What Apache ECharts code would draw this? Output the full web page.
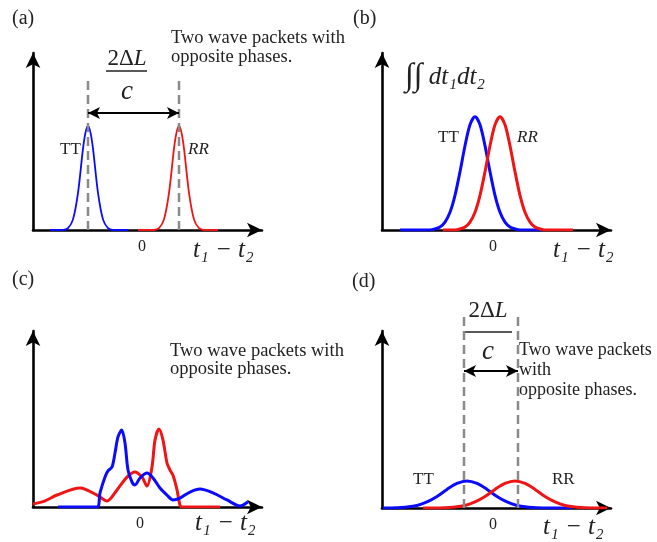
<!DOCTYPE html>
<html>
<head>
<meta charset="utf-8">
<script src="https://cdn.jsdelivr.net/npm/echarts@6/dist/echarts.min.js"></script>
<style>
  html, body { margin: 0; background: #fff; }
  #chart { width: 657px; height: 542px; }
</style>
</head>
<body>
<div id="chart"></div>
<script>
// (a) two narrow packets, far apart
const aTTx = [-9.2, -7.9, -7.4, -6.9, -6.4, -5.9, -5.65, -5.4, -5.15, -4.9, -4.4, -3.9, -3.4, -2.9, -1.4]
const aTTy = [0, 0, 0.01, 0.06, 0.21, 0.46, 0.55, 0.59, 0.55, 0.46, 0.21, 0.06, 0.01, 0, 0]
const aRRx = [-0.4, 1.2, 1.7, 2.2, 2.7, 3.2, 3.45, 3.7, 3.95, 4.2, 4.7, 5.2, 5.7, 6.2, 7.6]
const aRRy = [0, 0, 0.01, 0.06, 0.21, 0.46, 0.55, 0.59, 0.55, 0.46, 0.21, 0.06, 0.01, 0, 0]
const aGuideX = [-5.4, 3.7]
const aGuideTop = 0.864
const aSpanY = 0.661

// (b) after integrating over dt1 dt2
const bTTx = [-9.3, -6.3, -5.8, -5.3, -4.8, -4.3, -3.8, -3.3, -2.8, -2.3, -1.8, -1.3, -0.8, -0.3, 0.2, 0.7, 1.2, 1.7, 2.2, 2.7, 5.0]
const bTTy = [0, 0, 0.006, 0.017, 0.045, 0.1, 0.196, 0.329, 0.476, 0.595, 0.64, 0.595, 0.476, 0.329, 0.196, 0.1, 0.045, 0.017, 0.006, 0, 0]
const bRRx = [-5.0, -3.8, -3.3, -2.8, -2.3, -1.8, -1.3, -0.8, -0.3, 0.2, 0.7, 1.2, 1.7, 2.2, 2.7, 3.2, 3.7, 4.2, 4.7, 5.2, 8.0]
const bRRy = [0, 0, 0.006, 0.017, 0.045, 0.1, 0.196, 0.329, 0.476, 0.595, 0.64, 0.595, 0.476, 0.329, 0.196, 0.1, 0.045, 0.017, 0.006, 0, 0]

// (c) interfering packets
const cTTx = [-8.2, -4.3, -4.0, -3.5, -3.2, -2.8, -2.5, -2.2, -1.83, -1.5, -1.2, -0.8, -0.5, 0, 0.7, 1.3, 2.0, 2.7, 3.3, 4.0, 5.0, 6.0, 7.3, 8.7, 10.0, 10.8]
const cTTy = [0, 0, 0.08, 0.17, 0.205, 0.227, 0.307, 0.398, 0.4375, 0.364, 0.21, 0.142, 0.125, 0.165, 0.193, 0.165, 0.108, 0.068, 0.04, 0.051, 0.085, 0.102, 0.08, 0.04, 0.006, 0.03]
const cRRx = [-10.7, -9.5, -8.3, -6.0, -4.3, -3.3, -2.3, -1.3, -0.5, 0.2, 0.7, 1.2, 1.5, 1.9, 2.3, 2.7, 3.0, 3.3, 3.7, 4.0, 4.2, 8.0]
const cRRy = [0.017, 0.035, 0.068, 0.108, 0.068, 0.034, 0.097, 0.17, 0.199, 0.17, 0.119, 0.227, 0.38, 0.443, 0.38, 0.25, 0.21, 0.18, 0.097, 0.01, 0, 0]

// (d) broad packets, close together
const dTTx = [-11.0, -10.6, -9.6, -8.6, -7.6, -6.6, -5.6, -4.6, -3.6, -2.6, -1.6, -0.6, 0.4, 1.4, 2.4, 3.4, 4.4, 5.4, 8.0]
const dTTy = [0, 0, 0.0015, 0.005, 0.014, 0.034, 0.065, 0.105, 0.139, 0.153, 0.139, 0.105, 0.065, 0.034, 0.014, 0.005, 0.0015, 0, 0]
const dRRx = [-7.0, -5.8, -4.8, -3.8, -2.8, -1.8, -0.8, 0.2, 1.2, 2.2, 3.2, 4.2, 5.2, 6.2, 7.2, 8.2, 9.2, 10.2, 11.4]
const dRRy = [0, 0, 0.0015, 0.005, 0.014, 0.034, 0.065, 0.105, 0.139, 0.153, 0.139, 0.105, 0.065, 0.034, 0.014, 0.005, 0.0015, 0, 0]
const dGuideX = [-2.9, 2.5]
const dGuideTop = 1.1
const dSpanY = 0.774

const zeroTick = [0]

const BLUE = '#0a0aff'
const RED = '#f01414'
const serif = '"Liberation Serif", "Times New Roman", serif'

const panels = [
  { left: 33, top: 53, height: 177, min: -10.9, max: 12.0 },
  { left: 382, top: 53, height: 177, min: -11.1, max: 11.8 },
  { left: 33, top: 331, height: 176, min: -10.7, max: 12.2 },
  { left: 382, top: 331, height: 177, min: -11.1, max: 11.8 }
]

const pair = (xs, ys) => xs.map((x, i) => [x, ys[i]])

function curve(i, xs, ys, color, width) {
  return {
    type: 'line', xAxisIndex: i, yAxisIndex: i,
    data: pair(xs, ys),
    smooth: 0.3, showSymbol: false, silent: true,
    lineStyle: { color: color, width: width },
    z: 3
  }
}

function guide(i, x, top) {
  return {
    type: 'line', xAxisIndex: i, yAxisIndex: i,
    data: [[x, 0], [x, top]],
    showSymbol: false, silent: true, clip: false,
    lineStyle: { color: '#8a8a8a', width: 2.5, type: [9, 5] },
    z: 4
  }
}

function span(i, x1, x2, y) {
  return {
    type: 'line', xAxisIndex: i, yAxisIndex: i, data: [],
    markLine: {
      silent: true, animation: false,
      symbol: ['arrow', 'arrow'], symbolSize: [9, 12],
      label: { show: false },
      lineStyle: { color: '#000', width: 2, type: 'solid' },
      data: [[{ coord: [x1, y] }, { coord: [x2, y] }]]
    },
    z: 5
  }
}

function txt(x, y, text, size, extra) {
  return {
    type: 'text', x: x, y: y, silent: true,
    style: Object.assign({
      text: text, fill: '#222',
      font: size + 'px ' + serif,
      textAlign: 'left', textVerticalAlign: 'middle'
    }, extra || {})
  }
}

function fraction(cx, topY, barY, cY, barL, barR) {
  return [
    {
      type: 'text', x: cx, y: topY, silent: true,
      style: {
        text: '{n|2Δ}{i|L}', textAlign: 'center', textVerticalAlign: 'middle',
        rich: {
          n: { font: '23px ' + serif, fill: '#222' },
          i: { font: 'italic 23px ' + serif, fill: '#222' }
        }
      }
    },
    {
      type: 'line', silent: true,
      shape: { x1: barL, y1: barY, x2: barR, y2: barY },
      style: { stroke: '#222', lineWidth: 1.5 }
    },
    txt(cx, cY, 'c', 27, { font: 'italic 27px ' + serif, textAlign: 'center' })
  ]
}

const chart = echarts.init(document.getElementById('chart'))

chart.setOption({
  animation: false,
  backgroundColor: '#fff',
  grid: panels.map(p => ({ left: p.left, top: p.top, width: 229, height: p.height })),
  xAxis: panels.map((p, i) => ({
    type: 'value', gridIndex: i, min: p.min, max: p.max,
    splitLine: { show: false },
    axisTick: { show: false },
    axisLine: {
      onZero: false, symbol: ['none', 'arrow'], symbolSize: [11, 15],
      lineStyle: { color: '#000', width: 2.6 }
    },
    axisLabel: {
      customValues: zeroTick, margin: 9,
      color: '#222', fontSize: 16, fontFamily: serif
    }
  })),
  yAxis: panels.map((p, i) => ({
    type: 'value', gridIndex: i, min: 0, max: 1,
    splitLine: { show: false },
    axisTick: { show: false },
    axisLabel: { show: false },
    axisLine: {
      show: true, onZero: false, symbol: ['none', 'arrow'], symbolSize: [11, 15],
      lineStyle: { color: '#000', width: 2.6 }
    }
  })),
  series: [
    curve(0, aTTx, aTTy, BLUE, 1.8),
    curve(0, aRRx, aRRy, RED, 1.8),
    guide(0, aGuideX[0], aGuideTop),
    guide(0, aGuideX[1], aGuideTop),
    span(0, aGuideX[0], aGuideX[1], aSpanY),

    curve(1, bTTx, bTTy, BLUE, 3),
    curve(1, bRRx, bRRy, RED, 3),

    curve(2, cRRx, cRRy, RED, 3),
    curve(2, cTTx, cTTy, BLUE, 3),

    curve(3, dTTx, dTTy, BLUE, 3),
    curve(3, dRRx, dRRy, RED, 3),
    guide(3, dGuideX[0], dGuideTop),
    guide(3, dGuideX[1], dGuideTop),
    span(3, dGuideX[0], dGuideX[1], dSpanY)
  ],
  graphic: [
    txt(12, 19, '(a)', 20),
    txt(353, 19, '(b)', 20),
    txt(12, 280, '(c)', 20),
    txt(352, 282, '(d)', 20),

    // (a)
    txt(171, 38, 'Two wave packets with', 18.5),
    txt(171, 57, 'opposite phases.', 18.5),
    ...fraction(127, 59, 71, 92, 106, 147),
    txt(60, 150, 'TT', 17),
    txt(188, 150, 'RR', 17, { font: 'italic 17px ' + serif }),
    txt(193, 250, 't₁ − t₂', 25, { font: 'italic 25px ' + serif }),

    // (b)
    {
      type: 'text', x: 405, y: 77, silent: true,
      style: {
        text: '{s|∫∫}{t| dt₁dt₂}', textAlign: 'left', textVerticalAlign: 'middle',
        rich: {
          s: { font: '32px ' + serif, fill: '#222' },
          t: { font: 'italic 25px ' + serif, fill: '#222' }
        }
      }
    },
    txt(438, 138, 'TT', 17),
    txt(517, 138, 'RR', 17, { font: 'italic 17px ' + serif }),
    txt(553, 250, 't₁ − t₂', 25, { font: 'italic 25px ' + serif }),

    // (c)
    txt(170, 351, 'Two wave packets with', 18.5),
    txt(170, 369, 'opposite phases.', 18.5),
    txt(195, 523, 't₁ − t₂', 25, { font: 'italic 25px ' + serif }),

    // (d)
    ...fraction(488, 311, 332, 352, 465, 512),
    txt(519, 350, 'Two wave packets', 18),
    txt(519, 370, 'with', 18),
    txt(519, 390, 'opposite phases.', 18),
    txt(413, 480, 'TT', 17),
    txt(552, 480, 'RR', 17),
    txt(543, 527, 't₁ − t₂', 25, { font: 'italic 25px ' + serif })
  ]
})
</script>
</body>
</html>
